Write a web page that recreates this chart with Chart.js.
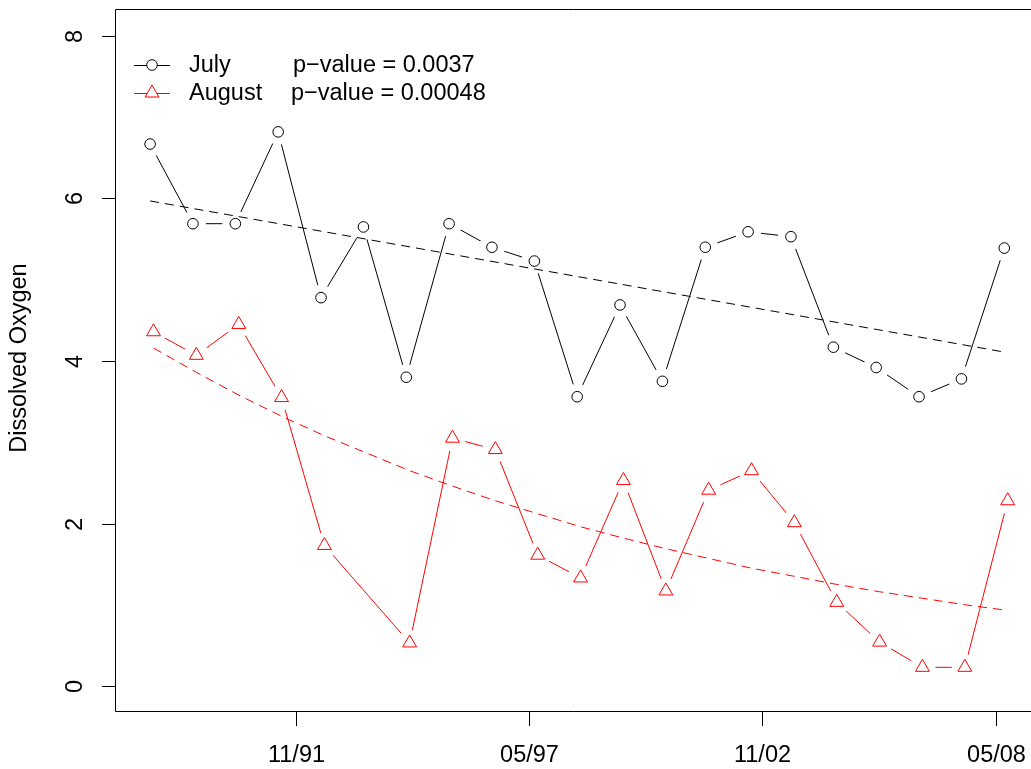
<!DOCTYPE html>
<html>
<head>
<meta charset="utf-8">
<script src="https://cdn.jsdelivr.net/npm/chart.js@4.4.1/dist/chart.umd.min.js"></script>
<style>
  body { margin: 0; background: #fff; }
  canvas { display: block; }
</style>
</head>
<body>
<canvas id="doChart" width="1031" height="769"></canvas>
<script>
// Sample dates (decimal years) and dissolved oxygen readings
const julyDates = [1988.40, 1989.41, 1990.41, 1991.42, 1992.43, 1993.43, 1994.44, 1995.45, 1996.46, 1997.46,
  1998.47, 1999.48, 2000.48, 2001.49, 2002.50, 2003.51, 2004.51, 2005.52, 2006.53, 2007.53, 2008.54];
const julyValues = [6.67, 5.69, 5.69, 6.82, 4.78, 5.65, 3.80, 5.69, 5.40, 5.23,
  3.56, 4.69, 3.75, 5.40, 5.59, 5.53, 4.17, 3.92, 3.56, 3.78, 5.39];

// no August sample in 1993
const augDates = [1988.48, 1989.49, 1990.49, 1991.50, 1992.51, 1994.52, 1995.53, 1996.54, 1997.54, 1998.55,
  1999.56, 2000.56, 2001.57, 2002.58, 2003.59, 2004.59, 2005.60, 2006.61, 2007.61, 2008.62];
const augValues = [4.36, 4.07, 4.45, 3.55, 1.73, 0.53, 3.05, 2.91, 1.61, 1.33,
  2.53, 1.17, 2.41, 2.65, 2.01, 1.03, 0.54, 0.23, 0.23, 2.28];

// fitted trend lines
const julyTrendDates = [1988.40, 1998.47, 2008.54];
const julyTrendValues = [5.97, 5.04, 4.11];
const augTrendValues = [4.16, 3.86, 3.58, 3.32, 3.08, 2.65, 2.46, 2.28, 2.12, 1.96,
  1.82, 1.69, 1.57, 1.45, 1.35, 1.25, 1.16, 1.08, 1.00, 0.93];

// axis ticks
const yTicks = [0, 2, 4, 6, 8];
const xTickValues = [1991.833, 1997.333, 2002.833, 2008.333];
const xTickLabels = ["11/91", "05/97", "11/02", "05/08"];

const legendRows = [
  { name: "July", pval: "p\u2212value = 0.0037", color: "#000000", shape: "circle", pvalX: 293 },
  { name: "August", pval: "p\u2212value = 0.00048", color: "#ff0000", shape: "triangle", pvalX: 291 },
];

const FONT = '23.5px "Liberation Sans", Arial, sans-serif';

function pts(xs, ys) {
  return xs.map((x, i) => ({ x: x, y: ys[i] }));
}

// R style box, axes, labels and legend
const rFrame = {
  id: "rFrame",
  afterDraw(chart) {
    const c = chart.ctx;
    const a = chart.chartArea;
    const xs = chart.scales.x;
    const ys = chart.scales.y;
    c.save();
    c.strokeStyle = "#000";
    c.lineWidth = 1;
    c.fillStyle = "#000";
    c.font = FONT;

    // box
    c.beginPath();
    c.rect(Math.round(a.left) - 0.5, Math.round(a.top) - 0.5, a.right - a.left + 20, a.bottom - a.top);
    c.stroke();

    // y axis
    c.textAlign = "center";
    c.textBaseline = "middle";
    yTicks.forEach((v) => {
      const py = Math.round(ys.getPixelForValue(v)) + 0.5;
      c.beginPath();
      c.moveTo(a.left - 14, py);
      c.lineTo(a.left, py);
      c.stroke();
      c.save();
      c.translate(a.left - 40, py);
      c.rotate(-Math.PI / 2);
      c.fillText(String(v), 0, 0);
      c.restore();
    });

    // x axis
    xTickValues.forEach((v, i) => {
      const px = Math.round(xs.getPixelForValue(v)) + 0.5;
      c.beginPath();
      c.moveTo(px, a.bottom);
      c.lineTo(px, a.bottom + 14);
      c.stroke();
      c.fillText(xTickLabels[i], px, a.bottom + 44);
    });

    // y title
    c.save();
    c.translate(20, 358);
    c.rotate(-Math.PI / 2);
    c.fillText("Dissolved Oxygen", 0, 0);
    c.restore();

    // legend
    c.textAlign = "left";
    legendRows.forEach((row, i) => {
      const y = 65 + i * 28;
      c.strokeStyle = row.color;
      c.beginPath();
      if (row.shape === "circle") {
        c.moveTo(134, y + 0.5); c.lineTo(147, y + 0.5);
        c.moveTo(157, y + 0.5); c.lineTo(170, y + 0.5);
        c.stroke();
        c.beginPath();
        c.arc(152, y, 5.3, 0, Math.PI * 2);
        c.stroke();
      } else {
        c.moveTo(134, y + 0.5); c.lineTo(170, y + 0.5);
        c.stroke();
        const r = 8;
        c.beginPath();
        c.moveTo(152, y - r);
        c.lineTo(152 + r * 0.866, y + r / 2);
        c.lineTo(152 - r * 0.866, y + r / 2);
        c.closePath();
        c.fillStyle = "#fff";
        c.fill();
        c.stroke();
      }
      c.fillStyle = "#000";
      c.fillText(row.name, 189, y + 1);
      c.fillText(row.pval, row.pvalX, y + 1);
    });
    c.restore();
  },
};

const ctx = document.getElementById("doChart").getContext("2d");
const doChart = new Chart(ctx, {
  type: "line",
  data: {
    datasets: [
      {
        label: "July trend",
        data: pts(julyTrendDates, julyTrendValues),
        borderColor: "#000",
        borderWidth: 1,
        borderDash: [9, 6],
        pointRadius: 0,
        order: 0,
      },
      {
        label: "August trend",
        data: pts(augDates, augTrendValues),
        borderColor: "#ff0000",
        borderWidth: 1,
        borderDash: [9, 6],
        pointRadius: 0,
        order: 0,
      },
      {
        label: "July",
        data: pts(julyDates, julyValues),
        showLine: false,
        pointStyle: "circle",
        pointRadius: 5.3,
        pointBorderWidth: 1,
        pointBorderColor: "#000",
        pointBackgroundColor: "rgba(0,0,0,0)",
        order: 1,
      },
      {
        label: "August",
        data: pts(augDates, augValues),
        showLine: false,
        pointStyle: "triangle",
        pointRadius: 8,
        pointBorderWidth: 1,
        pointBorderColor: "#ff0000",
        pointBackgroundColor: "rgba(0,0,0,0)",
        order: 1,
      },
      {
        label: "July gap",
        data: pts(julyDates, julyValues),
        showLine: false,
        pointRadius: 13,
        pointBorderWidth: 0,
        pointBackgroundColor: "#fff",
        order: 2,
      },
      {
        label: "August gap",
        data: pts(augDates, augValues),
        showLine: false,
        pointRadius: 13,
        pointBorderWidth: 0,
        pointBackgroundColor: "#fff",
        order: 2,
      },
      {
        label: "July line",
        data: pts(julyDates, julyValues),
        borderColor: "#000",
        borderWidth: 1,
        pointRadius: 0,
        order: 3,
      },
      {
        label: "August line",
        data: pts(augDates, augValues),
        borderColor: "#ff0000",
        borderWidth: 1,
        pointRadius: 0,
        order: 3,
      },
    ],
  },
  options: {
    responsive: false,
    animation: false,
    devicePixelRatio: 1,
    layout: { autoPadding: false, padding: { left: 116, top: 10, right: 0, bottom: 57 } },
    scales: {
      x: { type: "linear", display: false, min: 1987.596, max: 2009.17 },
      y: { type: "linear", display: false, min: -0.32, max: 8.32 },
    },
    plugins: {
      legend: { display: false },
      tooltip: { enabled: false },
    },
  },
  plugins: [rFrame],
});
</script>
</body>
</html>
